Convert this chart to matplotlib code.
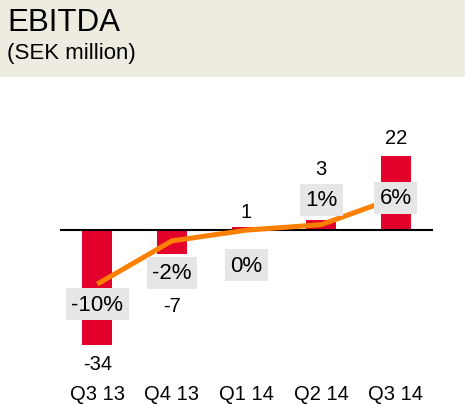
import matplotlib.pyplot as plt
from matplotlib.patches import Rectangle

plt.rcParams['font.family'] = ['Liberation Sans', 'DejaVu Sans']

quarters = ['Q3 13', 'Q4 13', 'Q1 14', 'Q2 14', 'Q3 14']
ebitda = [-34, -7, 1, 3, 22]
margin = [-10, -2, 0, 1, 6]

# label placement (pixel offsets from the mark)
bar_label_offset = [-19, -52, 15, 51, 18]
margin_label_offset = [-20, -32, -35, 25, 0]

fig = plt.figure(figsize=(4.65, 4.06), dpi=100)
fig.patches.append(Rectangle((0, 1 - 78 / 406), 1, 78 / 406, transform=fig.transFigure,
                             facecolor='#EEEBE0', edgecolor='none', zorder=0))
fig.text(7 / 465, 1 - 31 / 406, 'EBITDA', fontsize=22.5, va='baseline', ha='left')
fig.text(7 / 465, 1 - 59 / 406, '(SEK million)', fontsize=16, va='baseline', ha='left')

ax = fig.add_axes([60 / 465, 31 / 406, 373 / 465, 275 / 406])
ax.patch.set_alpha(0)
x = range(len(quarters))
ax.bar(x, ebitda, width=0.4, color='#E3002B', zorder=2)
ax.axhline(0, color='black', lw=1.5, zorder=3)
ax.set_xlim(-0.5, 4.5)
ax.set_ylim(-42.7, 38.9)
ax.set_yticks([])
ax.set_xticks(list(x))
ax.set_xticklabels(quarters, fontsize=14.5)
ax.tick_params(axis='x', length=0, pad=7)
for s in ax.spines.values():
    s.set_visible(False)

for i, v in enumerate(ebitda):
    ax.annotate(str(v), (i, v), xytext=(0, bar_label_offset[i]), textcoords='offset pixels',
                ha='center', va='center', fontsize=14.5, zorder=4)

ax2 = ax.twinx()
ax2.set_ylim(-42.7 * 3.37 / 5.4, 38.9 * 3.37 / 5.4)
ax2.plot(x, margin, color='#FF8000', lw=3.6, zorder=2, solid_capstyle='butt')
ax2.set_yticks([])
for s in ax2.spines.values():
    s.set_visible(False)

for i, v in enumerate(margin):
    ax2.annotate(f'{v}%', (i, v), xytext=(0, margin_label_offset[i]), textcoords='offset pixels',
                 ha='center', va='center', fontsize=16, zorder=5,
                 bbox=dict(boxstyle='square,pad=0.24', facecolor='#E6E6E6', edgecolor='none'))

fig.savefig('out.png', dpi=100)
